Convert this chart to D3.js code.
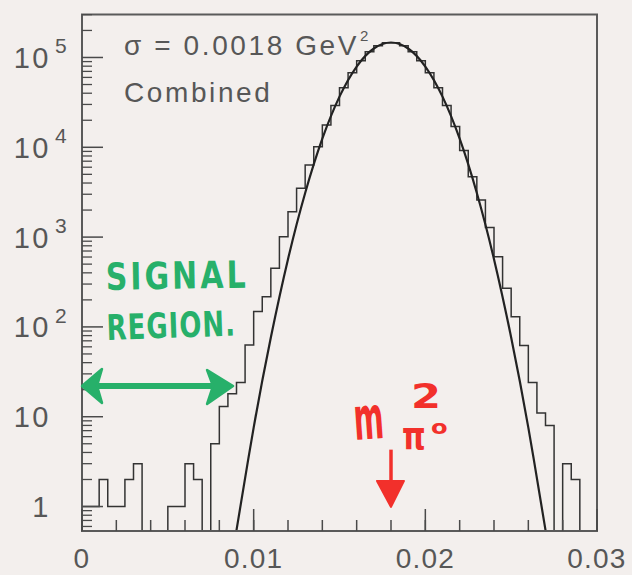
<!DOCTYPE html>
<html><head><meta charset="utf-8">
<script src="https://cdn.jsdelivr.net/npm/d3@7/dist/d3.min.js"></script>
<style>
html,body{margin:0;padding:0;background:#f3efed;}
svg{display:block;}
</style></head><body>
<svg id="chart" width="632" height="575"></svg>
<script>
// ---------- data ----------
const binStart = 0;
const binWidth = 0.0005;
const counts = [
  1, 1, 2, 1, 1, 2, 3, 0, 0, 0,
  1, 1, 3, 2, 0, 5, 13, 18, 24, 63,
  148, 217, 449, 1010, 1918, 3500, 6350, 10160, 17740, 29200,
  46000, 67500, 92000, 116000, 135500, 146000, 146000, 135500, 116000, 92000,
  67500, 46000, 29200, 17000, 9200, 4700, 2590, 1280, 605, 269,
  130, 62, 24, 11, 8, 0, 3, 2, 0, 0
];
const fitX = [0.0088, 0.009, 0.010, 0.011, 0.012, 0.013, 0.014, 0.015, 0.016, 0.017, 0.018,
              0.019, 0.020, 0.021, 0.022, 0.023, 0.024, 0.025, 0.026, 0.027, 0.0272];
const fitY = [0.312, 0.547, 7.55, 76.4, 568, 3097, 12450, 36640, 79250, 125900, 146900,
              125900, 79250, 36640, 12450, 3097, 568, 76.4, 7.55, 0.547, 0.312];
const xDomain = [0, 0.03];
const yDomain = [0.534, 301000];
const xMajorTicks = [0, 0.01, 0.02, 0.03];
const xMajorLabels = ["0", "0.01", "0.02", "0.03"];
const xMinorStep = 0.002;
const yMajorTicks = [1, 10, 100, 1000, 10000, 100000];
const yLabelBase = ["1", "10", "10", "10", "10", "10"];
const yLabelExp = ["", "", "2", "3", "4", "5"];
const infoLines = ["σ = 0.0018 GeV", "Combined"];
const signalWords = ["SIGNAL", "REGION."];
const signalRange = [0, 0.0088];
const signalLevel = 22;
const massMark = 0.018;
const massArrowFrom = 4.3;
const massArrowTo = 0.99;

// ---------- layout ----------
const W = 632, H = 575;
const L = 82, R = 597, T = 14.5, B = 531;
const svg = d3.select("#chart");
svg.append("rect").attr("width", W).attr("height", H).attr("fill", "#f3efed");

const x = d3.scaleLinear().domain(xDomain).range([L, R]);
const y = d3.scaleLog().domain(yDomain).range([B, T]);
const yv = v => v > 0 ? Math.min(B, y(v)) : B;

svg.append("clipPath").attr("id", "clip").append("rect")
  .attr("x", L).attr("y", T).attr("width", R - L).attr("height", B - T);

const plot = svg.append("g").attr("clip-path", "url(#clip)");

// histogram
const pts = [[binStart, 0]];
counts.forEach((c, i) => pts.push([binStart + i * binWidth, c]));
pts.push([binStart + counts.length * binWidth, 0]);
plot.append("path")
  .attr("d", d3.line().x(d => x(d[0])).y(d => yv(d[1])).curve(d3.curveStepAfter)(pts))
  .attr("fill", "none").attr("stroke", "#333").attr("stroke-width", 1.5);

// fit curve
plot.append("path")
  .attr("d", d3.line().x((d, i) => x(fitX[i])).y(d => y(d)).curve(d3.curveNatural)(fitY))
  .attr("fill", "none").attr("stroke", "#222").attr("stroke-width", 2.2);

// frame
svg.append("rect").attr("x", L).attr("y", T).attr("width", R - L).attr("height", B - T)
  .attr("fill", "none").attr("stroke", "#5a5a5a").attr("stroke-width", 2);

const tickColor = "#4a4a4a";
const font = "Liberation Sans, Arial, sans-serif";
// x ticks
const xMinor = d3.range(xDomain[0], xDomain[1] + 1e-9, xMinorStep);
svg.append("g").selectAll("line").data(xMinor).join("line")
  .attr("x1", d => x(d)).attr("x2", d => x(d)).attr("y1", B).attr("y2", B - 11)
  .attr("stroke", tickColor).attr("stroke-width", 1.5);
svg.append("g").selectAll("line").data(xMajorTicks).join("line")
  .attr("x1", d => x(d)).attr("x2", d => x(d)).attr("y1", B).attr("y2", B - 22)
  .attr("stroke", tickColor).attr("stroke-width", 1.5);
svg.append("g").selectAll("text").data(xMajorTicks).join("text")
  .attr("x", d => x(d)).attr("y", B + 37).attr("text-anchor", "middle")
  .attr("font-family", font).attr("font-size", 28)
  .attr("letter-spacing", 1.2).attr("fill", "#575757")
  .text((d, i) => xMajorLabels[i]);

// y ticks
const yMinor = [];
for (let e = -1; e <= 5; e++) for (let m = 2; m <= 9; m++) {
  const v = m * Math.pow(10, e);
  if (v >= yDomain[0] && v <= yDomain[1]) yMinor.push(v);
}
svg.append("g").selectAll("line").data(yMinor).join("line")
  .attr("x1", L).attr("x2", L + 10).attr("y1", d => y(d)).attr("y2", d => y(d))
  .attr("stroke", tickColor).attr("stroke-width", 1.3);
svg.append("g").selectAll("line").data(yMajorTicks).join("line")
  .attr("x1", L).attr("x2", L + 21).attr("y1", d => y(d)).attr("y2", d => y(d))
  .attr("stroke", tickColor).attr("stroke-width", 1.5);
const yl = svg.append("g").attr("font-family", font).attr("fill", "#575757");
yMajorTicks.forEach((v, i) => {
  yl.append("text").attr("x", 51).attr("y", y(v)).attr("dy", "0.36em")
    .attr("text-anchor", "end").attr("font-size", 29).attr("letter-spacing", 2.5)
    .text(yLabelBase[i]);
  if (yLabelExp[i]) {
    yl.append("text").attr("x", 55).attr("y", y(v) - 4)
      .attr("font-size", 21).text(yLabelExp[i]);
  }
});

// info text
const info = svg.append("g").attr("font-family", font).attr("fill", "#575757");
const t1 = info.append("text").attr("x", 124).attr("y", 55).attr("font-size", 28).attr("letter-spacing", 2.6);
t1.append("tspan").text(infoLines[0]);
t1.append("tspan").attr("font-size", 15).attr("dy", -14).attr("dx", 1).attr("letter-spacing", 0).text("2");
info.append("text").attr("x", 124).attr("y", 102).attr("font-size", 28).attr("letter-spacing", 2.6).text(infoLines[1]);

// green annotation
const green = "#27b06a";
const ga = svg.append("g").attr("fill", green).attr("font-family", "DejaVu Sans, sans-serif").attr("font-weight", "bold");
ga.append("text").attr("transform", "translate(106,290) rotate(-1) scale(1,1.25)")
  .attr("font-size", 30).attr("letter-spacing", 3).text(signalWords[0]);
ga.append("text").attr("transform", "translate(107,340) rotate(-2) scale(1,1.35)")
  .attr("font-size", 26).attr("letter-spacing", 1).text(signalWords[1]);
const gy = y(signalLevel);
const gx1 = x(signalRange[0]), gx2 = x(signalRange[1]);
svg.append("line").attr("x1", gx1 + 10).attr("x2", gx2 - 10).attr("y1", gy).attr("y2", gy)
  .attr("stroke", green).attr("stroke-width", 6).attr("stroke-linecap", "round");
svg.append("path").attr("d", `M${gx1},${gy} L${gx1 + 20},${gy - 17} L${gx1 + 15},${gy} L${gx1 + 20},${gy + 17} Z`)
  .attr("fill", green).attr("stroke", green).attr("stroke-width", 2.5).attr("stroke-linejoin", "round");
svg.append("path").attr("d", `M${gx2},${gy} L${gx2 - 26},${gy - 16} L${gx2 - 20},${gy} L${gx2 - 26},${gy + 18} Z`)
  .attr("fill", green).attr("stroke", green).attr("stroke-width", 2.5).attr("stroke-linejoin", "round");

// red annotation
const red = "#f2302b";
const ra = svg.append("g").attr("fill", red).attr("font-family", "DejaVu Sans, sans-serif").attr("font-weight", "bold");
ra.append("text").attr("transform", "translate(355,440) rotate(-4) scale(0.72,1.5)").attr("font-size", 40).text("m");
ra.append("text").attr("transform", "translate(402,449) scale(1,1.3)").attr("font-size", 30).text("π");
ra.append("text").attr("transform", "translate(431,434) scale(1.1,0.9)").attr("font-size", 22).text("o");
ra.append("text").attr("transform", "translate(411,408) scale(1.35,1.05)").attr("font-size", 32).text("2");
const mx = x(massMark), my1 = y(massArrowFrom), my2 = y(massArrowTo);
svg.append("line").attr("x1", mx).attr("x2", mx).attr("y1", my1).attr("y2", my2 - 20)
  .attr("stroke", red).attr("stroke-width", 3.5);
svg.append("path").attr("d", `M${mx - 14},${my2 - 26} L${mx + 13},${my2 - 26} L${mx},${my2} Z`)
  .attr("fill", red).attr("stroke", red).attr("stroke-width", 2).attr("stroke-linejoin", "round");
</script>
</body></html>
